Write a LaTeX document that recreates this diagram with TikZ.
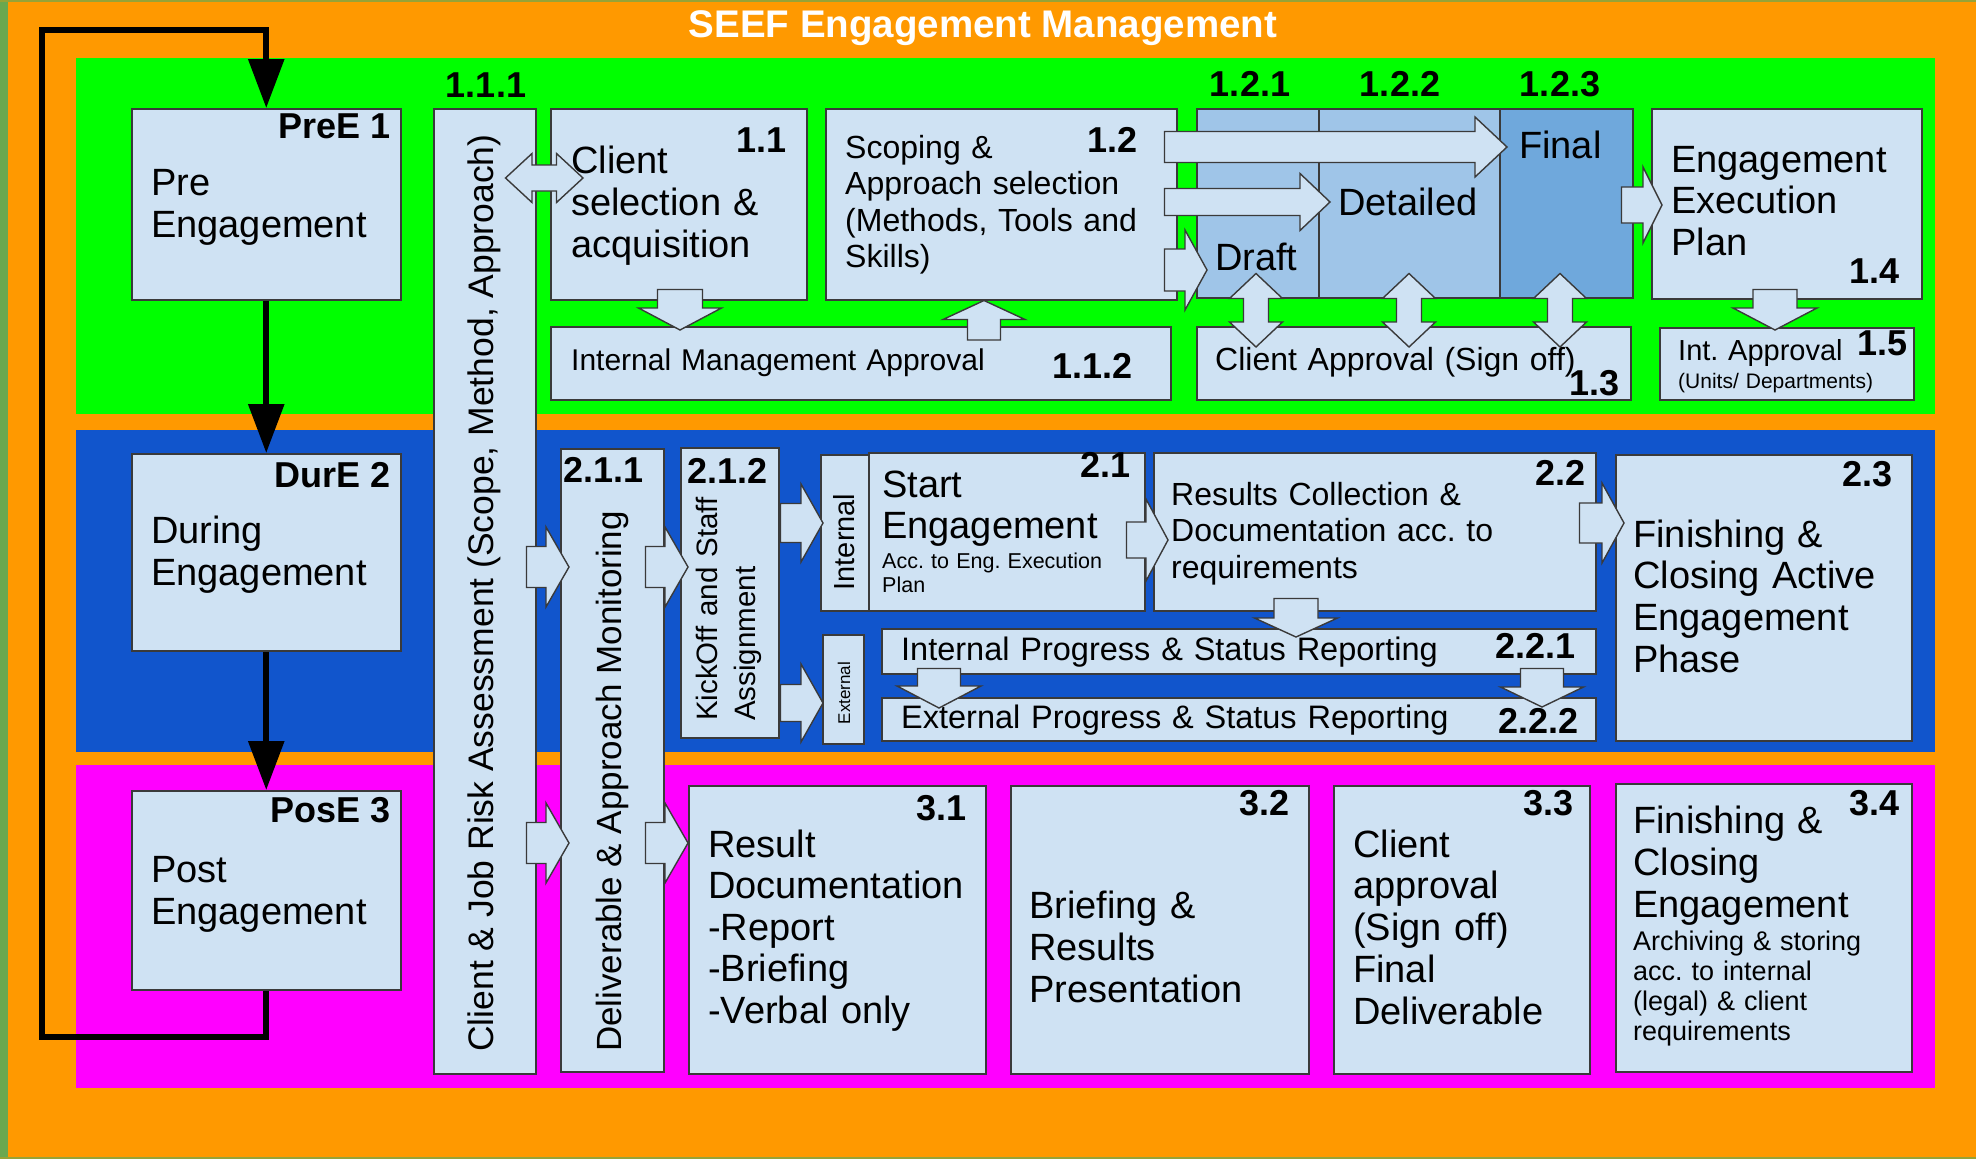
\documentclass[tikz,border=0pt]{standalone}
\usepackage{fontspec}
\setmainfont{Liberation Sans}
\usetikzlibrary{calc,arrows.meta}

\definecolor{bgorange}{HTML}{FF9900}
\definecolor{edgegreen}{HTML}{6AA84F}
\definecolor{preband}{HTML}{00FF00}
\definecolor{durband}{HTML}{1155CC}
\definecolor{posband}{HTML}{FF00FF}
\definecolor{boxfill}{HTML}{CFE2F3}
\definecolor{stagefill}{HTML}{9FC5E8}
\definecolor{finalfill}{HTML}{6FA8DC}
\definecolor{boxline}{HTML}{3A3A3A}

\newcommand\setfs[2]{\fontsize{#1}{#2}\selectfont}

% rectangle node given by its corners: [style] x1 y1 x2 y2 name
\newcommand\boxcell[6][]{%
  \node[box,#1,anchor=north west,minimum width={(#4)-(#2)},minimum height={(#5)-(#3)}] (#6) at (#2,#3) {};}

% block arrow: start, end, shaft half width, head half width, head length
\newcommand\fatarrow[5]{%
  \draw[fatline] let \p1=#1, \p2=#2, \p3=($(\p2)!#5!(\p1)$) in
    ($(\p1)!#3!90:(\p2)$) -- ($(\p3)!#3!90:(\p2)$) -- ($(\p3)!#4!90:(\p2)$) -- (\p2)
    -- ($(\p3)!#4!-90:(\p2)$) -- ($(\p3)!#3!-90:(\p2)$) -- ($(\p1)!#3!-90:(\p2)$) -- cycle;}

% double-headed block arrow: end, end, shaft half width, head half width, head length
\newcommand\fatboth[5]{%
  \draw[fatline] let \p1=#1, \p2=#2, \p3=($(\p1)!#5!(\p2)$), \p4=($(\p2)!#5!(\p1)$) in
    (\p1) -- ($(\p3)!#4!90:(\p2)$) -- ($(\p3)!#3!90:(\p2)$) -- ($(\p4)!#3!90:(\p2)$)
    -- ($(\p4)!#4!90:(\p2)$) -- (\p2) -- ($(\p4)!#4!-90:(\p2)$) -- ($(\p4)!#3!-90:(\p2)$)
    -- ($(\p3)!#3!-90:(\p2)$) -- ($(\p3)!#4!-90:(\p2)$) -- cycle;}

\tikzset{
  box/.style={draw=boxline, line width=1.5pt, fill=boxfill, inner sep=0pt},
  fatline/.style={draw=boxline, line width=1.4pt, fill=boxfill, line join=miter},
  phase/.style={line width=6pt, draw=black, line join=miter, -{Triangle[length=49pt,width=35pt]}},
  txt/.style={inner sep=0pt, anchor=base west, align=left, text width=900pt},
  num/.style={inner sep=0pt, font=\bfseries\setfs{36}{40}},
  rot/.style={inner sep=0pt, rotate=90},
}

\begin{document}
\frenchspacing
\begin{tikzpicture}[x=1pt, y=-1pt, font=\setfs{38}{42}]
\useasboundingbox (0,0) rectangle (1976,1159);

% background and phase bands
\fill[bgorange] (0,0) rectangle (1976,1159);
\fill[edgegreen] (0,0) rectangle (8,1159);
\fill[edgegreen!70!bgorange] (0,0) rectangle (1976,2);
\fill[edgegreen!70!bgorange] (0,1157) rectangle (1976,1159);
\fill[preband] (76,58) rectangle (1935,414);
\fill[durband] (76,430) rectangle (1935,752);
\fill[posband] (76,765) rectangle (1935,1088);

% phase boxes
\boxcell{131}{108}{400}{299}{pre}
\boxcell{131}{453}{400}{650}{dur}
\boxcell{131}{790}{400}{989}{pos}

% pre engagement
\boxcell{433}{108}{535}{1073}{c111}
\boxcell{550}{108}{806}{299}{c11}
\boxcell{825}{108}{1176}{299}{c12}
\boxcell[fill=stagefill]{1196}{108}{1318}{297}{c121}
\boxcell[fill=stagefill]{1318}{108}{1499}{297}{c122}
\boxcell[fill=finalfill]{1499}{108}{1632}{297}{c123}
\boxcell{1651}{108}{1921}{298}{c14}
\boxcell{550}{326}{1170}{399}{c112}
\boxcell{1196}{326}{1630}{399}{c13}
\boxcell{1659}{327}{1913}{399}{c15}

% during engagement
\boxcell{560}{448}{663}{1071}{c211}
\boxcell{680}{447}{778}{737}{c212}
\boxcell{820}{454}{868}{610}{cint}
\boxcell{868}{452}{1144}{610}{c21}
\boxcell{1153}{452}{1595}{610}{c22}
\boxcell{1615}{454}{1911}{740}{c23}
\boxcell{822}{634}{863}{743}{cext}
\boxcell{881}{628}{1595}{673}{c221}
\boxcell{881}{697}{1595}{740}{c222}

% post engagement
\boxcell{688}{785}{985}{1073}{c31}
\boxcell{1010}{785}{1308}{1073}{c32}
\boxcell{1333}{785}{1589}{1073}{c33}
\boxcell{1615}{783}{1911}{1071}{c34}

% phase sequence and loop back
\coordinate (loopbl) at (42,1037);
\coordinate (looptl) at (42,30);
\draw[phase] (pre.south) -- (dur.north);
\draw[phase] (dur.south) -- (pos.north);
\draw[phase] (pos.south) |- (loopbl) -- (looptl) -| (pre.north);

% block arrows
\fatboth{($(c111.east |- 0,178)+(-31,0)$)}{($(c11.west |- 0,178)+(33,0)$)}{13pt}{24.5pt}{26.5pt}
\fatarrow{($(c11.south -| 680,0)+(0,-11)$)}{($(c112.north -| 680,0)+(0,4)$)}{22.5pt}{41.5pt}{22pt}
\fatarrow{($(c112.north -| 984,0)+(0,14)$)}{(c12.south -| 984,0)}{16.5pt}{41pt}{19pt}
\fatarrow{($(c12.east |- 0,147)+(-13,0)$)}{($(c123.west |- 0,147)+(8,0)$)}{15.5pt}{30pt}{32pt}
\fatarrow{($(c12.east |- 0,202)+(-13,0)$)}{($(c122.west |- 0,202)+(12,0)$)}{13.5pt}{28.5pt}{30pt}
\fatarrow{($(c12.east |- 0,270)+(-13,0)$)}{($(c121.west |- 0,270)+(11,0)$)}{21pt}{40pt}{22pt}
\fatboth{($(c121.south -| 1256,0)+(0,-25)$)}{($(c13.north -| 1256,0)+(0,21)$)}{12.5pt}{26.5pt}{25pt}
\fatboth{($(c122.south -| 1409,0)+(0,-25)$)}{($(c13.north -| 1409,0)+(0,21)$)}{12.5pt}{26.5pt}{25pt}
\fatboth{($(c123.south -| 1560,0)+(0,-25)$)}{($(c13.north -| 1560,0)+(0,21)$)}{12.5pt}{26.5pt}{25pt}
\fatarrow{($(c123.east |- 0,205)+(-12,0)$)}{($(c14.west |- 0,205)+(11,0)$)}{18pt}{38pt}{19pt}
\fatarrow{($(c14.south -| 1775,0)+(0,-10)$)}{($(c15.north -| 1775,0)+(0,3)$)}{22pt}{42pt}{22pt}

\fatarrow{($(c111.east |- 0,567)+(-10,0)$)}{($(c211.west |- 0,567)+(9,0)$)}{20.5pt}{40pt}{23pt}
\fatarrow{($(c211.east |- 0,567)+(-19,0)$)}{($(c212.west |- 0,567)+(8,0)$)}{20.5pt}{40pt}{23pt}
\fatarrow{($(c212.east |- 0,523)+(1,0)$)}{($(cint.west |- 0,523)+(3,0)$)}{19.5pt}{39pt}{22pt}
\fatarrow{($(c212.east |- 0,703)+(1,0)$)}{($(cext.west |- 0,703)+(1,0)$)}{18.5pt}{39pt}{22pt}
\fatarrow{($(c21.east |- 0,540)+(-19,0)$)}{($(c22.west |- 0,540)+(15,0)$)}{18pt}{41pt}{22pt}
\fatarrow{($(c22.east |- 0,523)+(-17,0)$)}{($(c23.west |- 0,523)+(9,0)$)}{20pt}{40pt}{22pt}
\fatarrow{($(c22.south -| 1296,0)+(0,-13)$)}{($(c221.north -| 1296,0)+(0,9)$)}{22pt}{41.5pt}{19pt}
\fatarrow{($(c221.south -| 939,0)+(0,-6)$)}{($(c222.north -| 939,0)+(0,11)$)}{21.5pt}{42pt}{22pt}
\fatarrow{($(c221.south -| 1542,0)+(0,-6)$)}{($(c222.north -| 1542,0)+(0,10)$)}{21.5pt}{41.5pt}{20pt}

\fatarrow{($(c111.east |- 0,843)+(-10,0)$)}{($(c211.west |- 0,843)+(9,0)$)}{20.5pt}{40pt}{23pt}
\fatarrow{($(c211.east |- 0,843)+(-19,0)$)}{(c31.west |- 0,843)}{20.5pt}{40pt}{23pt}

% title
\node[inner sep=0pt, anchor=base, text=white, font=\bfseries\setfs{38.5}{42}] (title) at (983,37) {SEEF Engagement Management};

% numbers
\node[num, anchor=base] (n111) at (486,97) {1.1.1};
\node[num, anchor=base] (n121) at (1250,96) {1.2.1};
\node[num, anchor=base] (n122) at (1400,96) {1.2.2};
\node[num, anchor=base] (n123) at (1560,96) {1.2.3};
\node[num, anchor=base east] (npre) at (391,138) {PreE 1};
\node[num, anchor=base east] (n11) at (787,152) {1.1};
\node[num, anchor=base east] (n12) at (1138,152) {1.2};
\node[num, anchor=base east] (n14) at (1900,283) {1.4};
\node[num, anchor=base east] (n112) at (1133,378) {1.1.2};
\node[num, anchor=base east] (n13) at (1620,395) {1.3};
\node[num, anchor=base east] (n15) at (1908,355) {1.5};
\node[num, anchor=base east] (ndur) at (391,487) {DurE 2};
\node[num, anchor=base west] (n211) at (563,482) {2.1.1};
\node[num, anchor=base west] (n212) at (687,483) {2.1.2};
\node[num, anchor=base east] (n21) at (1131,477) {2.1};
\node[num, anchor=base east] (n22) at (1586,485) {2.2};
\node[num, anchor=base east] (n23) at (1893,486) {2.3};
\node[num, anchor=base east] (n221) at (1576,658) {2.2.1};
\node[num, anchor=base east] (n222) at (1579,733) {2.2.2};
\node[num, anchor=base east] (npos) at (391,822) {PosE 3};
\node[num, anchor=base east] (n31) at (967,820) {3.1};
\node[num, anchor=base east] (n32) at (1290,815) {3.2};
\node[num, anchor=base east] (n33) at (1574,815) {3.3};
\node[num, anchor=base east] (n34) at (1900,815) {3.4};

% box texts
\node[txt] (pret) at (151,195) {Pre\\Engagement};
\node[txt] (durt) at (151,543) {During\\Engagement};
\node[txt] (post) at (151,882) {Post\\Engagement};
\node[txt] (c11t) at (571,173) {Client\\selection \&\\acquisition};
\node[txt, font=\setfs{32}{36.5}] (c12t) at (845,158) {Scoping \&\\Approach selection\\(Methods, Tools and\\Skills)};
\node[txt] (draftt) at (1215,270) {Draft};
\node[txt] (dett) at (1338,215) {Detailed};
\node[txt] (fint) at (1519,158) {Final};
\node[txt, font=\setfs{38}{41.5}] (c14t) at (1671,172) {Engagement\\Execution\\Plan};
\node[txt, font=\setfs{30}{34}] (c112t) at (571,370) {Internal Management Approval};
\node[txt, font=\setfs{32}{36}] (c13t) at (1215,370) {Client Approval (Sign off)};
\node[txt, font=\setfs{29}{32}] (c15t) at (1678,360) {Int. Approval};
\node[txt, font=\setfs{21}{24}] (c15s) at (1678,388) {(Units/ Departments)};
\node[txt, font=\setfs{38}{41}] (c21t) at (882,497) {Start\\Engagement};
\node[txt, font=\setfs{21.5}{24}] (c21s) at (882,568) {Acc. to Eng. Execution\\Plan};
\node[txt, font=\setfs{32}{36.5}] (c22t) at (1171,505) {Results Collection \&\\Documentation acc. to\\requirements};
\node[txt, font=\setfs{32.5}{36}] (c221t) at (901,660) {Internal Progress \& Status Reporting};
\node[txt, font=\setfs{32.5}{36}] (c222t) at (901,728) {External Progress \& Status Reporting};
\node[txt, font=\setfs{38}{41.7}] (c23t) at (1633,547) {Finishing \&\\Closing Active\\Engagement\\Phase};
\node[txt, font=\setfs{38}{41.5}] (c31t) at (708,857) {Result\\Documentation\\-Report\\-Briefing\\-Verbal only};
\node[txt] (c32t) at (1029,918) {Briefing \&\\Results\\Presentation};
\node[txt, font=\setfs{38}{41.75}] (c33t) at (1353,857) {Client\\approval\\(Sign off)\\Final\\Deliverable};
\node[txt] (c34t) at (1633,833) {Finishing \&\\Closing\\Engagement};
\node[txt, font=\setfs{27}{30}] (c34s) at (1633,950) {Archiving \& storing\\acc. to internal\\(legal) \& client\\requirements};

% vertical texts
\node[rot, font=\setfs{35.5}{40}, anchor=west] (c111t) at (484,1052) {Client \& Job Risk Assessment (Scope, Method, Approach)};
\node[rot, font=\setfs{35}{40}, anchor=west] (c211t) at (612,1052) {Deliverable \& Approach Monitoring};
\node[rot, font=\setfs{29.5}{38}, anchor=north west, text width=300pt, align=left] (c212t) at (696,721) {KickOff and Staff\\Assignment};
\node[rot, font=\setfs{29}{32}] (cintt) at (844,542) {Internal};
\node[rot, font=\setfs{17}{20}] (cextt) at (844,693) {External};
\end{tikzpicture}
\end{document}
